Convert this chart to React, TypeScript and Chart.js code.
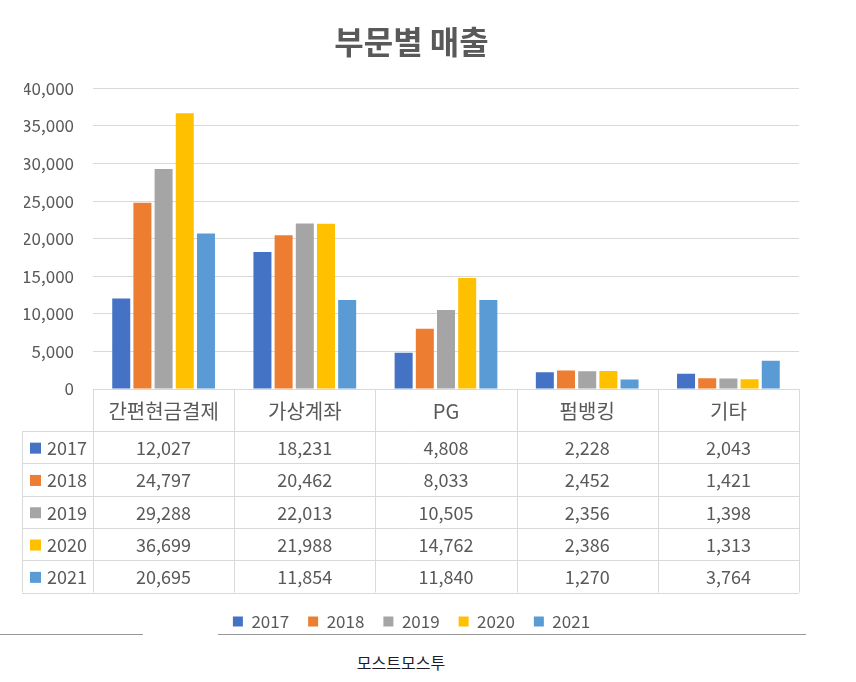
import React, { useEffect, useRef } from "react";
import { Chart, registerables } from "chart.js";

Chart.register(...registerables);

const categories = ["간편현금결제", "가상계좌", "PG", "펌뱅킹", "기타"];
const years = ["2017", "2018", "2019", "2020", "2021"];
const sales2017 = [12027, 18231, 4808, 2228, 2043];
const sales2018 = [24797, 20462, 8033, 2452, 1421];
const sales2019 = [29288, 22013, 10505, 2356, 1398];
const sales2020 = [36699, 21988, 14762, 2386, 1313];
const sales2021 = [20695, 11854, 11840, 1270, 3764];
const colors = ["#4472C4", "#ED7D31", "#A5A5A5", "#FFC000", "#5B9BD5"];

const FONT = "'Noto Sans CJK KR', 'Noto Sans', sans-serif";
const TEXT = "#595959";
const LINE = "#d9d9d9";

// draws the data table under the bars, columns follow the x scale
const tablePlugin = {
  id: "dataTable",
  afterDraw(chart: any) {
    const { ctx, chartArea, scales } = chart;
    const xs = scales.x;
    const n = chart.data.labels.length;
    const step = (chartArea.right - chartArea.left) / n;
    const top = chartArea.bottom;
    const headH = 42;
    const rowH = 32.3;
    const left = 22;
    const rows = chart.data.datasets.length;
    const bottom = top + headH + rows * rowH;

    ctx.save();
    ctx.strokeStyle = LINE;
    ctx.lineWidth = 1;

    // horizontal lines
    ctx.beginPath();
    ctx.moveTo(chartArea.left, top + 0.5);
    ctx.lineTo(chartArea.right, top + 0.5);
    for (let r = 0; r <= rows; r++) {
      const y = Math.round(top + headH + r * rowH) + 0.5;
      ctx.moveTo(left, y);
      ctx.lineTo(chartArea.right, y);
    }
    // vertical lines
    ctx.moveTo(left + 0.5, top + headH);
    ctx.lineTo(left + 0.5, bottom);
    for (let i = 0; i <= n; i++) {
      const x = Math.round(chartArea.left + i * step) + 0.5;
      ctx.moveTo(x, top);
      ctx.lineTo(x, bottom);
    }
    ctx.stroke();

    ctx.fillStyle = TEXT;
    ctx.textAlign = "center";
    ctx.textBaseline = "middle";
    ctx.font = `20px ${FONT}`;
    chart.data.labels.forEach((lab: string, i: number) => {
      ctx.fillText(lab, xs.getPixelForValue(i), top + headH / 2 + 1);
    });

    ctx.font = `18px ${FONT}`;
    chart.data.datasets.forEach((ds: any, r: number) => {
      const cy = top + headH + r * rowH + rowH / 2 + 1;
      ctx.fillStyle = ds.backgroundColor;
      ctx.fillRect(30, cy - 5.5, 11, 11);
      ctx.fillStyle = TEXT;
      ctx.textAlign = "left";
      ctx.fillText(ds.label, 47, cy);
      ctx.textAlign = "center";
      ds.data.forEach((v: number, i: number) => {
        ctx.fillText(v.toLocaleString("en-US"), xs.getPixelForValue(i), cy);
      });
    });
    ctx.restore();
  },
};

export default function App() {
  const chartRef = useRef<HTMLCanvasElement | null>(null);

  useEffect(() => {
    document.body.style.margin = "0";
    if (!chartRef.current) return;
    const series = [sales2017, sales2018, sales2019, sales2020, sales2021];
    const chart = new Chart(chartRef.current, {
      type: "bar",
      data: {
        labels: categories,
        datasets: years.map((y, i) => ({
          label: y,
          data: series[i],
          backgroundColor: colors[i],
          categoryPercentage: 0.75,
          barPercentage: 0.85,
        })),
      },
      options: {
        responsive: false,
        animation: false,
        layout: { padding: { left: 24, right: 57, top: 0, bottom: 0 } },
        plugins: {
          title: {
            display: true,
            text: "부문별 매출",
            color: TEXT,
            font: { family: FONT, size: 32, weight: "bold" },
            padding: { top: 23, bottom: 27 },
          },
          legend: {
            position: "bottom",
            labels: {
              boxWidth: 10,
              boxHeight: 10,
              padding: 19,
              color: TEXT,
              font: { family: FONT, size: 17 },
            },
          },
          tooltip: { enabled: false },
        },
        scales: {
          x: {
            ticks: { display: false },
            grid: { display: false },
            border: { display: false },
            afterFit: (scale: any) => {
              scale.height = 205;
            },
          },
          y: {
            min: 0,
            max: 40000,
            ticks: {
              stepSize: 5000,
              padding: 19,
              color: TEXT,
              font: { family: FONT, size: 17 },
              callback: (v: any) => Number(v).toLocaleString("en-US"),
            },
            grid: { color: LINE, drawTicks: false },
            border: { display: false },
            afterFit: (scale: any) => {
              scale.width = 69;
            },
          },
        },
      },
      plugins: [tablePlugin],
    });
    return () => chart.destroy();
  }, []);

  return (
    <div style={{ position: "relative", width: 856, height: 682, background: "#fff" }}>
      <canvas ref={chartRef} width={856} height={640} style={{ position: "absolute", left: 0, top: 0 }} />
      <div style={{ position: "absolute", left: 0, top: 634, width: 143, height: 1, background: "#999" }} />
      <div style={{ position: "absolute", left: 218, top: 634, width: 588, height: 1, background: "#999" }} />
      <div
        style={{
          position: "absolute",
          left: 0,
          width: 802,
          top: 650,
          textAlign: "center",
          fontFamily: FONT,
          fontSize: 16,
          color: "#1c1c2c",
        }}
      >
        모스트모스투
      </div>
    </div>
  );
}
